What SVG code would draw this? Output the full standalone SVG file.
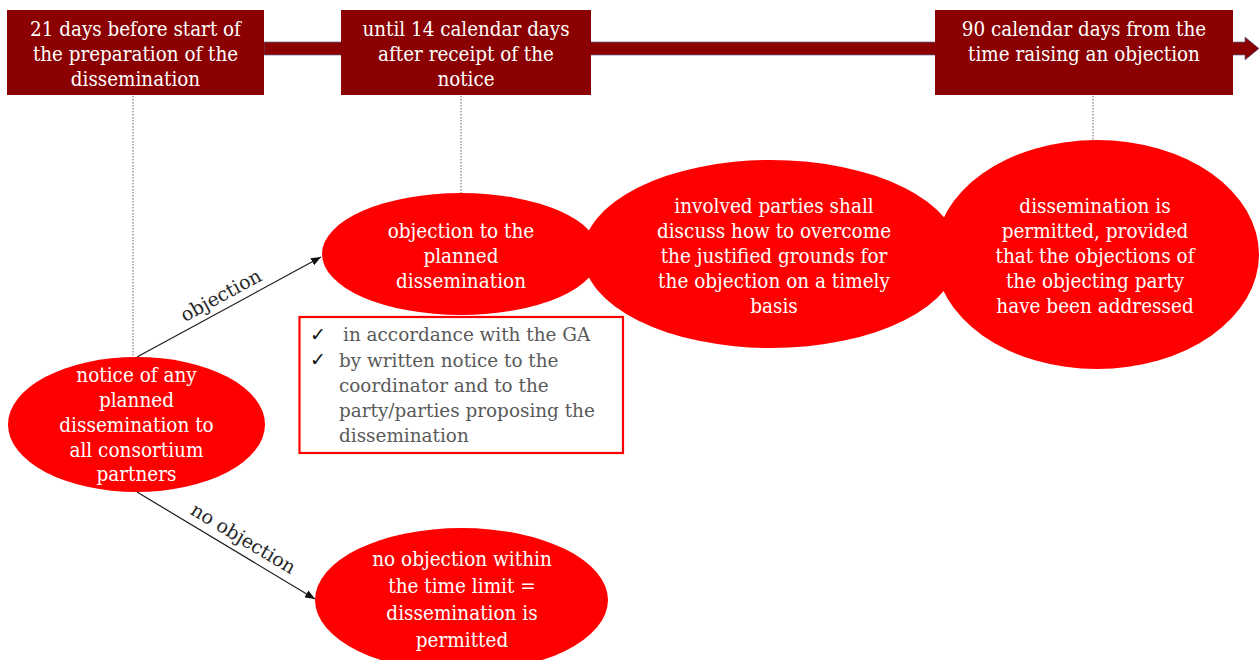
<svg xmlns="http://www.w3.org/2000/svg" width="1259" height="660" viewBox="0 0 1259 660">
  <style>
    .stage { fill: #8B0000; }
    .stage-text { fill: #ffffff; font-family: "DejaVu Serif Condensed", "DejaVu Serif", serif; font-stretch: condensed; font-size: 20.4px; text-anchor: middle; }
    .step { fill: #FF0000; }
    .step-text { fill: #ffffff; font-family: "DejaVu Serif Condensed", "DejaVu Serif", serif; font-stretch: condensed; font-size: 20.5px; text-anchor: middle; }
    .guide { stroke: #9a9a9a; stroke-width: 1.5; stroke-dasharray: 1.5 1.5; fill: none; }
    .flow { stroke: #1a1a1a; stroke-width: 1.2; fill: none; marker-end: url(#arrow); }
    .flow-label { fill: #262626; font-family: "DejaVu Serif", serif; font-size: 19px; text-anchor: middle; }
    .note-box { fill: #ffffff; stroke: #FF0000; stroke-width: 2.2; }
    .note-text { fill: #595959; font-family: "DejaVu Serif", serif; font-size: 18.4px; }
    .tick { fill: #111111; font-family: "DejaVu Sans", sans-serif; font-size: 19px; }
  </style>
  <defs>
    <marker id="arrow" markerUnits="userSpaceOnUse" markerWidth="10" markerHeight="8" refX="10" refY="4" orient="auto">
      <path d="M0,0 L10,4 L0,8 z" fill="#111111"/>
    </marker>
  </defs>

  <!-- timeline bar -->
  <g id="timeline">
    <polygon class="stage" points="264,42 1245,42 1245,37 1259,48.5 1245,60 1245,55 264,55" stroke="#5a6a98" stroke-width="0.7"/>
  </g>

  <!-- dotted guides from the stages down to the steps -->
  <g id="guides">
    <line class="guide" x1="133" y1="96" x2="133" y2="357"/>
    <line class="guide" x1="461" y1="96" x2="461" y2="193"/>
    <line class="guide" x1="1093" y1="96" x2="1093" y2="140"/>
  </g>

  <!-- timeline stages -->
  <g id="stage-21-days">
    <rect class="stage" x="7" y="10" width="257" height="85"/>
    <text class="stage-text" x="135.5" y="36">21 days before start of</text>
    <text class="stage-text" x="135.5" y="61">the preparation of the</text>
    <text class="stage-text" x="135.5" y="86">dissemination</text>
  </g>
  <g id="stage-14-days">
    <rect class="stage" x="341" y="10" width="250" height="85"/>
    <text class="stage-text" x="466" y="36">until 14 calendar days</text>
    <text class="stage-text" x="466" y="61">after receipt of the</text>
    <text class="stage-text" x="466" y="86">notice</text>
  </g>
  <g id="stage-90-days">
    <rect class="stage" x="935" y="10" width="298" height="85"/>
    <text class="stage-text" x="1084" y="36">90 calendar days from the</text>
    <text class="stage-text" x="1084" y="61">time raising an objection</text>
  </g>

  <!-- process steps -->
  <g id="step-notice">
    <ellipse class="step" cx="136.5" cy="424.5" rx="128.5" ry="67.5"/>
    <text class="step-text" x="136.5" y="382">notice of any</text>
    <text class="step-text" x="136.5" y="407">planned</text>
    <text class="step-text" x="136.5" y="432">dissemination to</text>
    <text class="step-text" x="136.5" y="457">all consortium</text>
    <text class="step-text" x="136.5" y="481">partners</text>
  </g>
  <g id="step-objection">
    <ellipse class="step" cx="461" cy="254" rx="139" ry="61"/>
    <text class="step-text" x="461" y="238">objection to the</text>
    <text class="step-text" x="461" y="263">planned</text>
    <text class="step-text" x="461" y="288">dissemination</text>
  </g>
  <g id="step-discussion">
    <ellipse class="step" cx="771" cy="254" rx="188" ry="94"/>
    <text class="step-text" x="774" y="213">involved parties shall</text>
    <text class="step-text" x="774" y="238">discuss how to overcome</text>
    <text class="step-text" x="774" y="263">the justified grounds for</text>
    <text class="step-text" x="774" y="288">the objection on a timely</text>
    <text class="step-text" x="774" y="313">basis</text>
  </g>
  <g id="step-permitted-provided">
    <ellipse class="step" cx="1097" cy="254.5" rx="162" ry="114.5"/>
    <text class="step-text" x="1095" y="213">dissemination is</text>
    <text class="step-text" x="1095" y="238">permitted, provided</text>
    <text class="step-text" x="1095" y="263">that the objections of</text>
    <text class="step-text" x="1095" y="288">the objecting party</text>
    <text class="step-text" x="1095" y="313">have been addressed</text>
  </g>
  <g id="step-no-objection">
    <ellipse class="step" cx="461.5" cy="600" rx="146.5" ry="72"/>
    <text class="step-text" x="462" y="566">no objection within</text>
    <text class="step-text" x="462" y="593">the time limit =</text>
    <text class="step-text" x="462" y="620">dissemination is</text>
    <text class="step-text" x="462" y="647">permitted</text>
  </g>

  <!-- conditions for raising an objection -->
  <g id="objection-conditions">
    <rect class="note-box" x="299.5" y="317" width="323.5" height="136"/>
    <text class="tick" x="310" y="341">✓</text>
    <text class="tick" x="310" y="366">✓</text>
    <text class="note-text" x="343" y="341">in accordance with the GA</text>
    <text class="note-text" x="339" y="366.5">by written notice to the</text>
    <text class="note-text" x="339" y="391.5">coordinator and to the</text>
    <text class="note-text" x="339" y="416.5">party/parties proposing the</text>
    <text class="note-text" x="339" y="441.5">dissemination</text>
  </g>

  <!-- connectors -->
  <g id="connectors">
    <line class="flow" x1="137" y1="357" x2="321" y2="257"/>
    <text class="flow-label" transform="translate(224,301) rotate(-28.5)">objection</text>
    <line class="flow" x1="137" y1="492" x2="315" y2="599"/>
    <text class="flow-label" transform="translate(240,544) rotate(31)">no objection</text>
  </g>
</svg>
